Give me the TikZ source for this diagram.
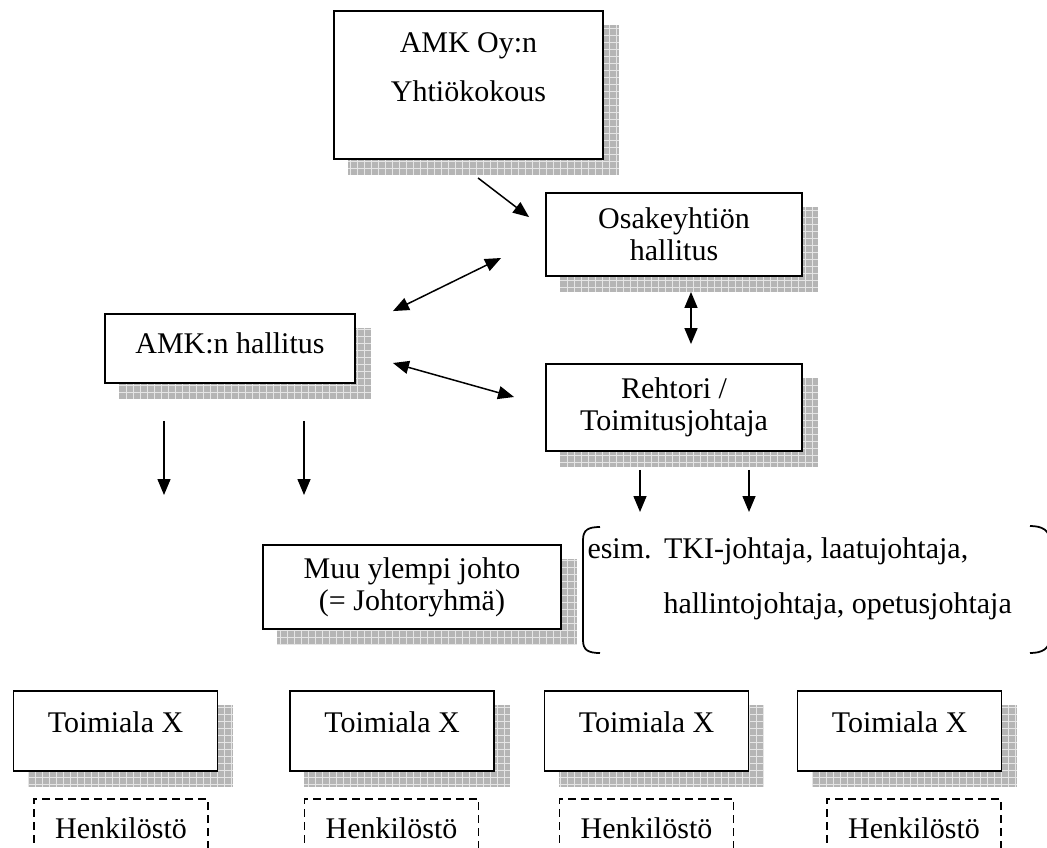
\documentclass[tikz,border=0pt]{standalone}
\usepackage{fontspec}
\setmainfont{Liberation Serif}
\usetikzlibrary{arrows.meta}
\usetikzlibrary{backgrounds}
\usetikzlibrary{calc}

\begin{document}
\begin{tikzpicture}[x=0.4pt,y=-0.4pt,
	every node/.style={font=\fontsize{12pt}{12.8pt}\selectfont},
	box/.style={draw,line width=0.75pt,fill=white,inner sep=0pt,align=center},
	staff/.style={draw,dashed,dash pattern=on 3.2pt off 2pt,line width=0.7pt,inner sep=0pt,minimum width=69.6pt,minimum height=23.2pt},
	onearrow/.style={-{Triangle[length=6.4pt,width=5.2pt]},line width=0.6pt},
	twoarrow/.style={{Triangle[length=6.4pt,width=5.2pt]}-{Triangle[length=6.4pt,width=5.2pt]},line width=0.6pt},
	shadowfill/.style={fill=gray!58}]
		\useasboundingbox (0,0) rectangle (1047,847);

		\node[box,minimum width=107.6pt,minimum height=59.2pt,text depth=14.2pt] (kokous) at (468.5,85) {AMK Oy:n\\[7pt]Yhtiökokous};
		\node[box,minimum width=102.4pt,minimum height=33.2pt] (osake) at (674,234.5) {Osakeyhtiön\\hallitus};
		\node[box,minimum width=100pt,minimum height=27.6pt,text depth=4.6pt] (amkh) at (230,348.5) {AMK:n hallitus};
		\node[box,minimum width=102.4pt,minimum height=34.8pt] (rehtori) at (674,407.5) {Rehtori /\\Toimitusjohtaja};
		\node[box,minimum width=119.2pt,minimum height=33.6pt] (muu) at (412,587) {Muu ylempi johto\\(= Johtoryhmä)};

		\node[anchor=north west,inner sep=0pt,align=left] (esim) at (587,537)
			{esim.\hspace{5pt}TKI-johtaja, laatujohtaja,\\[9.1pt]\hspace*{30.4pt}hallintojohtaja, opetusjohtaja};
		\draw[line width=0.7pt] (600,527) .. controls (588,527) and (583,530) .. (583,540)
			-- (583,640) .. controls (583,650) and (588,653) .. (600,653);
		\draw[line width=0.7pt] (1030,526) .. controls (1042,526) and (1050,530) .. (1050,542)
			-- (1050,637) .. controls (1050,649) and (1042,653) .. (1030,653);

		\foreach \i/\tx/\hx in {1/115.5/121,2/392/391.5,3/646.5/646.5,4/899.5/914}{
			\node[box,minimum width=81.6pt,minimum height=32pt,text depth=7.4pt] (toim\i) at (\tx,731) {Toimiala X};
			\node[staff] (henk\i) at (\hx,828) {Henkilöstö};
		}

		\draw[onearrow] ([shift={(9.5,18)}]kokous.south) -- ([shift={(-16,25)}]osake.north west);
		\draw[twoarrow] ([shift={(37,-2)}]amkh.north east) -- ([shift={(-44,23.5)}]osake.west);
		\draw[twoarrow] ([shift={(17,15)}]osake.south) -- ([shift={(17,-19)}]rehtori.north);
		\draw[twoarrow] ([shift={(37,14.5)}]amkh.east) -- ([shift={(-31,-10.5)}]rehtori.west);

		\coordinate (a1) at (164,495);
		\coordinate (a2) at (304,495);
		\coordinate (r1) at (640,512);
		\coordinate (r2) at (749,512);
		\draw[onearrow] ([shift={(-66,37)}]amkh.south) -- (a1);
		\draw[onearrow] ([shift={(74,37)}]amkh.south) -- (a2);
		\draw[onearrow] ([shift={(-34,18)}]rehtori.south) -- (r1);
		\draw[onearrow] ([shift={(75,18)}]rehtori.south) -- (r2);

		\begin{scope}[on background layer]
			\foreach \n in {kokous,osake,amkh,rehtori,muu,toim1,toim2,toim3,toim4}{
				\fill[shadowfill] ([shift={(15,15)}]\n.north west) rectangle ([shift={(15,15)}]\n.south east);
				\draw[gray!20,line width=0.3pt,step=2.8pt] ([shift={(15,15)}]\n.north west) grid ([shift={(15,15)}]\n.south east);
			}
		\end{scope}
\end{tikzpicture}
\end{document}
